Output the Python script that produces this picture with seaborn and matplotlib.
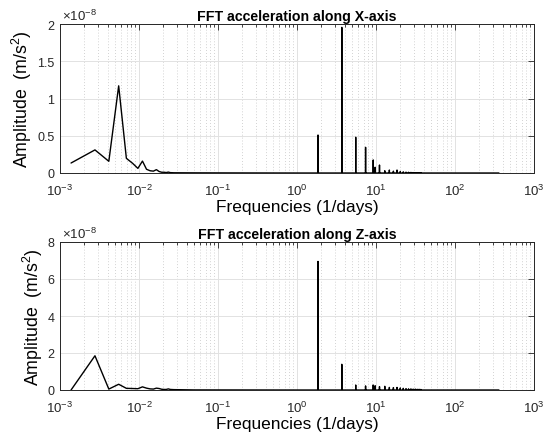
import numpy as np
import pandas as pd
import matplotlib
matplotlib.use("Agg")
import matplotlib.pyplot as plt
from matplotlib.ticker import LogLocator, NullFormatter, FixedLocator, FuncFormatter
import seaborn as sns

# Frequency resolution of the spectrum (1/days)
DF = 0.001383

# Low-frequency FFT bins (1/days) and amplitudes (x 1e-8 m/s^2)
low_freq = [0.00138, 0.00277, 0.00415, 0.00553, 0.00692, 0.00830, 0.00968,
            0.01106, 0.01245, 0.01383, 0.01521, 0.01660, 0.01798, 0.01936,
            0.02075, 0.02213, 0.02351, 0.02490, 0.02766, 0.05, 0.2, 1.0]
x_low_amp = [0.134, 0.31, 0.157, 1.17, 0.197, 0.13, 0.062, 0.160, 0.05, 0.03,
             0.025, 0.045, 0.02, 0.01, 0.01, 0.006, 0.012, 0.005, 0.003,
             0.002, 0.001, 0.0]
z_low_amp = [0.0, 1.85, 0.05, 0.31, 0.09, 0.08, 0.07, 0.17, 0.10, 0.06,
             0.05, 0.10, 0.08, 0.04, 0.03, 0.03, 0.06, 0.03, 0.02,
             0.005, 0.003, 0.0]

# Orbital harmonic lines (1/days) and their amplitudes (x 1e-8 m/s^2)
line_freq = [1.845, 3.69, 5.535, 7.38, 9.225, 9.75, 11.07, 12.915, 14.76,
             16.605, 18.45, 20.3, 22.14, 23.99, 25.83, 27.68, 29.52, 31.4,
             33.2, 35.1, 36.9]
x_line_amp = [0.51, 1.955, 0.48, 0.345, 0.175, 0.077, 0.107, 0.03, 0.04,
              0.025, 0.04, 0.02, 0.015, 0.012, 0.01, 0.008, 0.006, 0.005,
              0.004, 0.003, 0.003]
z_line_amp = [6.95, 1.39, 0.27, 0.22, 0.27, 0.23, 0.18, 0.20, 0.14, 0.13,
              0.14, 0.11, 0.09, 0.07, 0.06, 0.06, 0.05, 0.05, 0.04, 0.04,
              0.03]

# Upper end of the spectrum (Nyquist frequency, 1/days)
f_max = 360.0

titles = ["FFT acceleration along X-axis", "FFT acceleration along Z-axis"]
y_max = [2, 8]
y_ticks = [[0, 0.5, 1, 1.5, 2], [0, 2, 4, 6, 8]]
x_ticks = [1e-3, 1e-2, 1e-1, 1e0, 1e1, 1e2, 1e3]


def spectrum(low_amp, line_amp):
    f = list(low_freq)
    a = list(low_amp)
    for fc, ac in zip(line_freq, line_amp):
        f += [fc - DF, fc, fc + DF]
        a += [0.0, ac, 0.0]
    f.append(f_max)
    a.append(0.0)
    df = pd.DataFrame({"freq": f, "amp": a}).sort_values("freq")
    return df


sns.set_theme(style="white")
plt.rcParams["font.family"] = ["Liberation Sans", "DejaVu Sans"]
plt.rcParams["mathtext.fontset"] = "custom"
plt.rcParams["mathtext.rm"] = "Liberation Sans"
plt.rcParams["mathtext.it"] = "Liberation Sans:italic"

fig = plt.figure(figsize=(5.48, 4.39), dpi=100)
W, H = 548, 439
boxes = [(60, 25, 534, 174), (60, 243, 534, 391)]
axc = "#262626"

for i, (l, t, r, b) in enumerate(boxes):
    ax = fig.add_axes([l / W, (H - b) / H, (r - l) / W, (b - t) / H])
    data = spectrum(x_low_amp if i == 0 else z_low_amp,
                    x_line_amp if i == 0 else z_line_amp)
    ax.set_xscale("log")
    sns.lineplot(data=data, x="freq", y="amp", ax=ax, color="black",
                 linewidth=1.0, sort=False, estimator=None, zorder=3)
    ax.set_xlim(1e-3, 1e3)
    ax.set_ylim(0, y_max[i])

    ax.xaxis.set_major_locator(FixedLocator(x_ticks))
    ax.xaxis.set_minor_locator(LogLocator(base=10, subs=np.arange(2, 10), numticks=20))
    ax.xaxis.set_minor_formatter(NullFormatter())
    ax.xaxis.set_major_formatter(
        FuncFormatter(lambda v, p: r"$10^{%d}$" % int(round(np.log10(v)))))
    ax.yaxis.set_major_locator(FixedLocator(y_ticks[i]))
    ax.yaxis.set_major_formatter(FuncFormatter(lambda v, p: "%g" % v))

    ax.grid(True, which="major", color="#e2e2e2", linewidth=0.7, linestyle="-", zorder=0)
    ax.grid(True, which="minor", axis="x", color="#c4c4c4", linewidth=0.6,
            linestyle=(0, (1, 2.5)), zorder=0)
    ax.set_axisbelow(True)

    for s in ax.spines.values():
        s.set_visible(True)
        s.set_color(axc)
        s.set_linewidth(0.7)
    ax.tick_params(which="both", direction="in", top=True, right=True,
                   color=axc, labelcolor=axc, width=0.6)
    ax.tick_params(axis="y", which="major", length=4, pad=4, labelsize=9)
    ax.tick_params(axis="x", which="major", length=4, pad=7, labelsize=9.5)
    ax.tick_params(which="minor", length=2.2)

    ax.set_xlabel("Frequencies (1/days)", fontsize=12.4, color="black", labelpad=1)
    ax.set_ylabel(r"Amplitude  (m/s$^2$)", fontsize=12.8, color="black", labelpad=2)
    ax.set_title(titles[i], fontsize=10.2, fontweight="bold", color="black", pad=3)
    ax.text(0.004, 1.008, r"$\times10^{-8}$", transform=ax.transAxes,
            ha="left", va="bottom", fontsize=9.5, color=axc)

fig.savefig("out.png", dpi=100)
